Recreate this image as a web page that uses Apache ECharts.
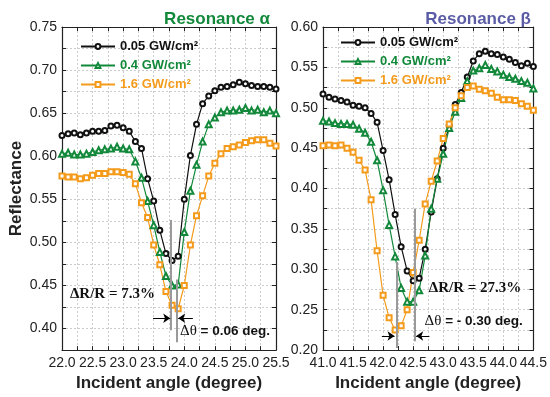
<!DOCTYPE html>
<html>
<head>
<meta charset="utf-8">
<script src="https://cdn.jsdelivr.net/npm/echarts@6/dist/echarts.min.js"></script>
<style>
  html, body { margin: 0; padding: 0; background: #fff; }
  #chart { width: 550px; height: 397px; }
</style>
</head>
<body>
<div id="chart"></div>
<script>
// incident angles (degree)
const anglesA = [22.0, 22.1, 22.2, 22.3, 22.4, 22.5, 22.6, 22.7, 22.8, 22.9,
  23.0, 23.1, 23.2, 23.3, 23.4, 23.5, 23.6, 23.7, 23.8, 23.9,
  24.0, 24.1, 24.2, 24.3, 24.4, 24.5, 24.6, 24.7, 24.8, 24.9,
  25.0, 25.1, 25.2, 25.3, 25.4, 25.5];
const anglesB = [41.0, 41.1, 41.2, 41.3, 41.4, 41.5, 41.6, 41.7, 41.8, 41.9,
  42.0, 42.1, 42.2, 42.3, 42.4, 42.5, 42.6, 42.7, 42.8, 42.9,
  43.0, 43.1, 43.2, 43.3, 43.4, 43.5, 43.6, 43.7, 43.8, 43.9,
  44.0, 44.1, 44.2, 44.3, 44.4, 44.5];

// resonance alpha
const low_A = [0.624, 0.626, 0.627, 0.625, 0.627, 0.629, 0.629, 0.630, 0.635, 0.636,
  0.633, 0.629, 0.617, 0.609, 0.574, 0.548, 0.514, 0.487, 0.479, 0.484,
  0.550, 0.601, 0.637, 0.661, 0.670, 0.676, 0.680, 0.681, 0.683, 0.686,
  0.684, 0.682, 0.681, 0.681, 0.680, 0.678];
const mid_A = [0.603, 0.604, 0.602, 0.602, 0.603, 0.605, 0.607, 0.608, 0.609, 0.611,
  0.609, 0.608, 0.594, 0.575, 0.548, 0.520, 0.489, 0.461, 0.450, 0.451,
  0.512, 0.560, 0.590, 0.617, 0.637, 0.645, 0.651, 0.653, 0.653, 0.654,
  0.656, 0.653, 0.654, 0.651, 0.653, 0.650];
const high_A = [0.577, 0.576, 0.576, 0.574, 0.575, 0.578, 0.580, 0.580, 0.582, 0.582,
  0.581, 0.579, 0.568, 0.546, 0.529, 0.497, 0.474, 0.443, 0.427, 0.423,
  0.450, 0.497, 0.531, 0.554, 0.577, 0.592, 0.603, 0.609, 0.611, 0.613,
  0.616, 0.618, 0.619, 0.619, 0.615, 0.612];

// resonance beta
const low_B = [0.517, 0.513, 0.511, 0.509, 0.507, 0.503, 0.502, 0.500, 0.493, 0.482,
  0.447, 0.411, 0.368, 0.328, 0.298, 0.286, 0.289, 0.325, 0.371, 0.412,
  0.450, 0.478, 0.504, 0.519, 0.538, 0.558, 0.567, 0.570, 0.567, 0.566,
  0.563, 0.560, 0.556, 0.552, 0.555, 0.551];
const mid_B = [0.484, 0.483, 0.481, 0.480, 0.480, 0.479, 0.474, 0.469, 0.458, 0.435,
  0.398, 0.355, 0.316, 0.277, 0.260, 0.260, 0.274, 0.317, 0.375, 0.412,
  0.443, 0.475, 0.495, 0.512, 0.533, 0.546, 0.549, 0.553, 0.548, 0.545,
  0.541, 0.538, 0.536, 0.533, 0.531, 0.524];
const high_B = [0.453, 0.454, 0.453, 0.454, 0.450, 0.445, 0.435, 0.423, 0.386, 0.323,
  0.268, 0.240, 0.225, 0.230, 0.250, 0.296, 0.336, 0.381, 0.409, 0.434,
  0.462, 0.480, 0.500, 0.515, 0.525, 0.527, 0.523, 0.521, 0.518, 0.513,
  0.510, 0.510, 0.509, 0.505, 0.502, 0.497];

const seriesNames = ['0.05 GW/cm²', '0.4 GW/cm²', '1.6 GW/cm²'];

// annotations: [angle, yFrom, yTo] and [angleFrom, angleTo, y]
const markersA = [[23.785, 0.526, 0.398], [23.876, 0.457, 0.384]];
const arrowsA = [[23.49, 23.77, 0.412], [24.14, 23.90, 0.412]];
const markersB = [[42.23, 0.309, 0.2025], [42.52, 0.375, 0.211]];
const arrowsB = [[41.98, 42.19, 0.2175], [42.77, 42.55, 0.2175]];

const BLACK = '#111';
const GREEN = '#12893a';
const ORANGE = '#f49b1c';
const SANS = 'Liberation Sans, Arial, sans-serif';
const SERIF = 'Liberation Serif, Times New Roman, serif';

const chart = echarts.init(document.getElementById('chart'), null, { renderer: 'canvas' });

const pairs = (xs, ys) => xs.map((x, i) => [x, ys[i]]);
const halfStep = v => Math.abs(v * 2 - Math.round(v * 2)) < 1e-6;
const twentieth = v => Math.abs(v * 20 - Math.round(v * 20)) < 1e-6;

function xAxisFor(grid, min, max, bottom) {
  return {
    type: 'value', gridIndex: grid, min: min, max: max, interval: 0.25,
    position: bottom ? 'bottom' : 'top',
    name: bottom ? 'Incident angle (degree)' : '',
    nameLocation: 'middle', nameGap: 23,
    nameTextStyle: { fontFamily: SANS, fontWeight: 'bold', fontSize: 17, color: '#222' },
    axisLine: { onZero: false, lineStyle: { color: '#222', width: 1.2 } },
    axisTick: { show: true, inside: true, length: 4, lineStyle: { color: '#222' } },
    axisLabel: {
      show: bottom, margin: 6, fontFamily: SANS, fontSize: 14, color: '#222',
      formatter: v => halfStep(v) ? v.toFixed(1) : ''
    },
    splitLine: { show: bottom, lineStyle: { color: '#cccccc', type: [2, 2], width: 1 } }
  };
}

function yAxisFor(grid, min, max, left, name) {
  return {
    type: 'value', gridIndex: grid, min: min, max: max, interval: 0.025,
    position: left ? 'left' : 'right',
    name: name || '', nameLocation: 'middle', nameGap: 37,
    nameTextStyle: { fontFamily: SANS, fontWeight: 'bold', fontSize: 17, color: '#222' },
    axisLine: { onZero: false, lineStyle: { color: '#222', width: 1.2 } },
    axisTick: { show: true, inside: true, length: 4, lineStyle: { color: '#222' } },
    axisLabel: {
      show: left, margin: 5, fontFamily: SANS, fontSize: 14, color: '#222',
      formatter: v => twentieth(v) ? v.toFixed(2) : ''
    },
    splitLine: { show: left, lineStyle: { color: '#cccccc', type: [2, 2], width: 1 } }
  };
}

function curve(name, grid, xs, ys, color, symbol, size) {
  return {
    type: 'line', name: name, xAxisIndex: grid, yAxisIndex: grid,
    data: pairs(xs, ys), symbol: symbol, symbolSize: size,
    showAllSymbol: true,
    lineStyle: { color: color, width: 1.2 },
    itemStyle: { color: color, borderWidth: 1 },
    z: 3
  };
}

function dipLines(list) {
  return {
    silent: true, animation: false, symbol: ['none', 'none'],
    label: { show: false },
    lineStyle: { color: '#9a9a9a', width: 2, type: 'solid' },
    data: list.map(m => [{ coord: [m[0], m[1]] }, { coord: [m[0], m[2]] }])
  };
}

function arrowLines(list) {
  return {
    silent: true, animation: false, symbol: ['none', 'arrow'], symbolSize: 7,
    label: { show: false },
    lineStyle: { color: '#000', width: 1, type: 'solid' },
    data: list.map(a => [{ coord: [a[0], a[2]] }, { coord: [a[1], a[2]] }])
  };
}

const noteRich = {
  s: { fontFamily: SERIF, fontWeight: 'bold', fontSize: 15, color: '#111' },
  t: { fontFamily: SERIF, fontSize: 15, color: '#111' },
  b: { fontFamily: SANS, fontWeight: 'bold', fontSize: 13.5, color: '#111' }
};

function notes(items) {
  return {
    silent: true, animation: false, symbol: 'circle', symbolSize: 0,
    label: { show: true, position: 'right', distance: 0, rich: noteRich },
    data: items.map(n => ({ coord: [n[0], n[1]], label: { formatter: n[2] } }))
  };
}

const sA = [
  curve(seriesNames[0], 0, anglesA, low_A, BLACK, 'emptyCircle', 5),
  curve(seriesNames[1], 0, anglesA, mid_A, GREEN, 'emptyTriangle', 6),
  curve(seriesNames[2], 0, anglesA, high_A, ORANGE, 'emptyRect', 5)
];
sA[1].markLine = dipLines(markersA);
sA[2].markLine = arrowLines(arrowsA);
sA[0].markPoint = notes([
  [22.13, 0.4396, '{s|ΔR/R = 7.3%}'],
  [23.93, 0.397, '{t|Δθ}{b| = 0.06 deg.}']
]);

const sB = [
  curve(seriesNames[0], 1, anglesB, low_B, BLACK, 'emptyCircle', 5),
  curve(seriesNames[1], 1, anglesB, mid_B, GREEN, 'emptyTriangle', 6),
  curve(seriesNames[2], 1, anglesB, high_B, ORANGE, 'emptyRect', 5)
];
sB[1].markLine = dipLines(markersB);
sB[2].markLine = arrowLines(arrowsB);
sB[0].markPoint = notes([
  [42.76, 0.2764, '{s|ΔR/R = 27.3%}'],
  [42.69, 0.2358, '{t|Δθ}{b| = - 0.30 deg.}']
]);

function legendAt(left, top) {
  return {
    orient: 'vertical', left: left, top: top,
    itemWidth: 34, itemHeight: 6, itemGap: 6,
    textStyle: { fontFamily: SANS, fontWeight: 'bold', fontSize: 13, padding: [0, 0, 0, 0] },
    data: [
      { name: seriesNames[0], textStyle: { color: BLACK } },
      { name: seriesNames[1], textStyle: { color: GREEN } },
      { name: seriesNames[2], textStyle: { color: ORANGE } }
    ]
  };
}

const option = {
  backgroundColor: '#fff',
  animation: false,
  title: [
    { text: 'Resonance α', right: 275, top: 6,
      textStyle: { fontFamily: SANS, fontWeight: 'bold', fontSize: 17, color: GREEN } },
    { text: 'Resonance β', right: 14, top: 6,
      textStyle: { fontFamily: SANS, fontWeight: 'bold', fontSize: 17, color: '#5b5ca6' } }
  ],
  legend: [legendAt(75, 35), legendAt(335, 31)],
  grid: [
    { left: 62, top: 27, width: 214, height: 327 },
    { left: 323, top: 27, width: 215, height: 327 }
  ],
  xAxis: [
    xAxisFor(0, 22.0, 25.5, true),
    xAxisFor(1, 41.0, 44.5, true),
    xAxisFor(0, 22.0, 25.5, false),
    xAxisFor(1, 41.0, 44.5, false)
  ],
  yAxis: [
    yAxisFor(0, 0.375, 0.75, true, 'Reflectance'),
    yAxisFor(1, 0.2, 0.6, true),
    yAxisFor(0, 0.375, 0.75, false),
    yAxisFor(1, 0.2, 0.6, false)
  ],
  series: sA.concat(sB)
};

chart.setOption(option);
</script>
</body>
</html>
